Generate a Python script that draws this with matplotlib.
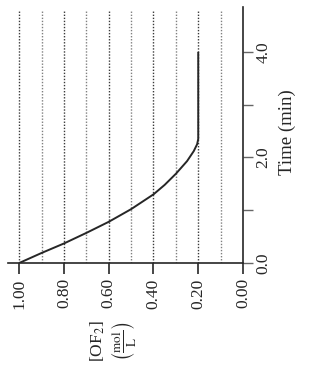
import matplotlib
matplotlib.use('Agg')
import matplotlib.pyplot as plt

plt.rcParams['font.family'] = ['Liberation Serif', 'DejaVu Serif']
plt.rcParams['mathtext.fontset'] = 'stix'

# data (time in min, concentration in mol/L)
time_min = [0.0, 0.19, 0.37, 0.57, 0.78, 1.02, 1.30, 1.48, 1.69, 1.93, 2.12, 2.25, 2.35, 4.0]
conc_of2 = [1.00, 0.90, 0.80, 0.70, 0.60, 0.50, 0.40, 0.35, 0.30, 0.25, 0.22, 0.205, 0.20, 0.20]

grid_levels = [0.1, 0.2, 0.3, 0.4, 0.5, 0.6, 0.7, 0.8, 0.9, 1.0]
conc_ticks = [1.0, 0.8, 0.6, 0.4, 0.2, 0.0]
conc_labels = ['1.00', '0.80', '0.60', '0.40', '0.20', '0.00']
time_ticks = [0.0, 2.0, 4.0]
time_labels = ['0.0', '2.0', '4.0']
time_minor = [1.0, 3.0]

ink = '#262626'

fig = plt.figure(figsize=(3.21, 3.86), dpi=100)
fig.patch.set_facecolor('white')
# the page is scanned sideways: concentration runs along the bottom, time up the right
ax = fig.add_axes([8 / 321, 1 - 263 / 386, 235 / 321, 256 / 386])

for g in grid_levels:
    shade = '#3a3a3a' if round(g * 10) % 2 == 0 else '#808080'
    ax.vlines(g, 0, 4.77, colors=shade, linewidth=1.0, linestyles=(0, (1.0, 1.2)))

ax.plot(conc_of2, time_min, color=ink, linewidth=1.4, solid_capstyle='butt',
        solid_joinstyle='round')

ax.set_xlim(1.05, 0.0)
ax.set_ylim(0.0, 4.85)

for side in ['left', 'top']:
    ax.spines[side].set_visible(False)
for side in ['bottom', 'right']:
    ax.spines[side].set_color(ink)
    ax.spines[side].set_linewidth(1.2)

ax.set_xticks(conc_ticks)
ax.set_xticklabels(conc_labels, rotation=90)
ax.yaxis.tick_right()
ax.set_yticks(time_ticks)
ax.set_yticklabels(time_labels, rotation=90, va='center')
ax.set_yticks(time_minor, minor=True)
ax.tick_params(axis='x', direction='out', length=8, width=1.2, color=ink,
               labelsize=12.5, labelcolor=ink, pad=3)
ax.tick_params(axis='y', which='both', direction='out', length=7, width=1.0,
               color='#666666', labelsize=12.5, labelcolor=ink, pad=2)

fig.text(287 / 321, 1 - 132 / 386, 'Time (min)', rotation=90, fontsize=13.5,
         color=ink, ha='center', va='center')
fig.text(98 / 321, 1 - 341 / 386, '[OF$_2$]', rotation=90, fontsize=12.5,
         color=ink, ha='center', va='center')
fig.text(124 / 321, 1 - 341 / 386, r'$\left(\frac{\mathrm{mol}}{\mathrm{L}}\right)$',
         rotation=90, fontsize=13.5, color=ink, ha='center', va='center')

fig.savefig('out.png', dpi=100, facecolor='white')
